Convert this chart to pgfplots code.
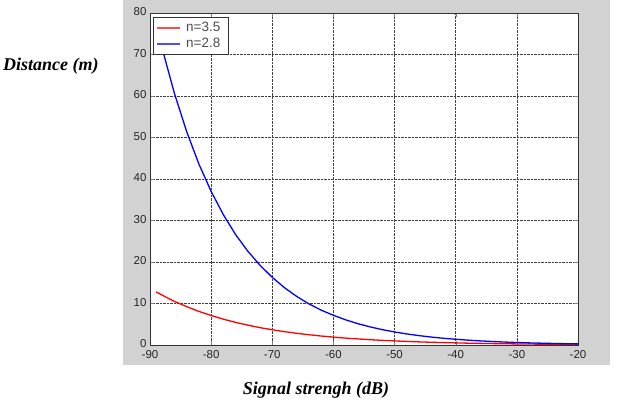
\documentclass[border=0pt]{standalone}
\usepackage{pgfplots}
\pgfplotsset{compat=1.18}
\usepackage{fontspec}
\setmainfont{Liberation Serif}
\setsansfont{Liberation Sans}
\definecolor{figgray}{RGB}{210,210,210}
\begin{document}
\begin{tikzpicture}
\path[use as bounding box] (0pt,0pt) rectangle (631pt,401pt);
\fill[figgray] (123pt,36pt) rectangle (610pt,401pt);
\node[font=\fontsize{18}{18}\selectfont\bfseries\itshape, anchor=west, inner sep=0pt] at (3pt,335pt) {Distance (m)};
\node[font=\fontsize{18}{18}\selectfont\bfseries\itshape] at (316pt,11pt) {Signal strengh (dB)};
\begin{axis}[
  at={(150pt,56pt)}, anchor=south west,
  scale only axis, width=428pt, height=332pt,
  xmin=-90, xmax=-20, ymin=0, ymax=80,
  xtick={-90,-80,...,-20}, ytick={0,10,...,80},
  grid=major,
  grid style={densely dotted, black!75, line width=0.6pt},
  tick align=inside,
  major tick length=4pt,
  axis line style={black!80, line width=0.6pt},
  axis background/.style={fill=white},
  tick label style={font=\sffamily\fontsize{11.5}{11.5}\selectfont, text=black!85},
  xticklabel style={yshift=-2pt},
  yticklabel style={yshift=1pt},
  /pgf/number format/assume math mode=true,
  legend style={at={(0.007,0.988)}, anchor=north west, draw=black!80, fill=white,
    font=\sffamily\fontsize{13.5}{13.5}\selectfont, text=black!70, row sep=1pt, inner sep=3pt,
    nodes={inner xsep=5pt}},
  legend image code/.code={\draw[#1, line width=2pt, opacity=0.7] (0pt,0pt) -- (23pt,0pt);},
  legend cell align=left,
]
\addplot[red, line width=1.3pt] coordinates {
(-89,12.8) (-88,12.0) (-86,10.5) (-84,9.24) (-82,8.09) (-80,7.10) (-78,6.22)
(-76,5.45) (-74,4.78) (-72,4.18) (-70,3.67) (-68,3.21) (-66,2.82) (-64,2.47)
(-62,2.16) (-60,1.90) (-58,1.66) (-56,1.46) (-54,1.28) (-52,1.12) (-50,0.98)
(-48,0.86) (-46,0.75) (-44,0.66) (-42,0.58) (-40,0.51) (-38,0.44) (-36,0.39)
(-34,0.34) (-32,0.30) (-30,0.26) (-28,0.23) (-26,0.20) (-24,0.18) (-22,0.15) (-20,0.13)
};
\addlegendentry{n=3.5}
\addplot[blue, line width=1.3pt] coordinates {
(-89,77.6) (-88,71.4) (-86,60.6) (-84,51.4) (-82,43.6) (-80,37.0) (-78,31.4)
(-76,26.6) (-74,22.6) (-72,19.2) (-70,16.3) (-68,13.8) (-66,11.7) (-64,9.9)
(-62,8.4) (-60,7.15) (-58,6.06) (-56,5.14) (-54,4.36) (-52,3.70) (-50,3.14)
(-48,2.66) (-46,2.26) (-44,1.91) (-42,1.62) (-40,1.38) (-38,1.17) (-36,0.99)
(-34,0.84) (-32,0.71) (-30,0.60) (-28,0.51) (-26,0.44) (-24,0.37) (-22,0.31) (-20,0.27)
};
\addlegendentry{n=2.8}
\end{axis}
\end{tikzpicture}
\end{document}
